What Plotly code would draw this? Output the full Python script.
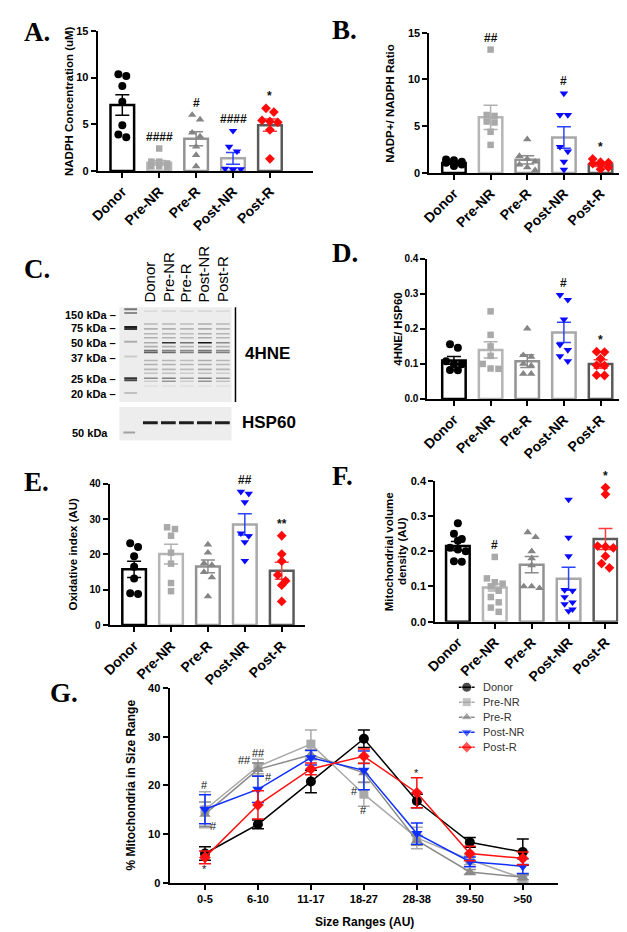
import plotly.graph_objects as go

W, H = 627, 932
FONT = "Liberation Sans, Arial, sans-serif"
SERIF = "Liberation Serif, Times New Roman, serif"

groups = ["Donor", "Pre-NR", "Pre-R", "Post-NR", "Post-R"]

# ---------------- Panel A : NADPH concentration ----------------
A_means = [7.05, 0.88, 3.45, 1.35, 4.9]
A_sem = [1.1, 0.25, 0.75, 0.62, 0.65]
A_pts = [[10.35, 10.15, 9.1, 7.4, 4.9, 3.9, 3.6],
         [2.4, 1.0, 1.0, 0.8, 0.5, 0.5, 0.4],
         [6.0, 5.5, 4.1, 3.7, 2.6, 1.7, 0.5],
         [4.3, 2.6, 2.1, 0.25, 0.2, 0.2, 0.15],
         [6.7, 6.3, 5.4, 5.3, 5.2, 4.4, 1.3]]
A_sig = ["", "####", "#", "####", "*"]

# ---------------- Panel B : NADP+/NADPH ratio ----------------
B_means = [1.05, 5.95, 1.4, 3.8, 0.9]
B_sem = [0.12, 1.3, 0.45, 1.15, 0.2]
B_pts = [[1.45, 1.35, 1.2, 1.1, 1.0, 0.9, 0.75],
         [13.2, 6.2, 6.1, 5.5, 5.4, 4.4, 3.0],
         [3.6, 1.8, 1.5, 1.2, 0.9, 0.6, 0.3],
         [8.5, 6.2, 6.2, 2.8, 2.3, 1.2, 0.35],
         [1.5, 1.15, 1.1, 1.0, 0.9, 0.6, 0.4]]
B_sig = ["", "##", "", "#", "*"]

# ---------------- Panel D : 4HNE / HSP60 ----------------
D_means = [0.11, 0.14, 0.108, 0.19, 0.10]
D_sem = [0.011, 0.023, 0.018, 0.029, 0.012]
D_pts = [[0.156, 0.146, 0.108, 0.10, 0.099, 0.083, 0.082],
         [0.25, 0.183, 0.15, 0.123, 0.10, 0.087, 0.086],
         [0.201, 0.125, 0.12, 0.10, 0.095, 0.072, 0.072],
         [0.297, 0.283, 0.227, 0.155, 0.14, 0.122, 0.108],
         [0.135, 0.134, 0.115, 0.096, 0.095, 0.068, 0.067]]
D_sig = ["", "", "", "#", "*"]

# ---------------- Panel E : Oxidative index ----------------
E_means = [15.8, 20.1, 16.6, 28.5, 15.4]
E_sem = [2.3, 2.8, 1.8, 3.0, 2.4]
E_pts = [[23.2, 22.1, 19.5, 16.5, 13.2, 9.0, 8.8],
         [27.7, 27.2, 25.3, 20.5, 17.4, 11.9, 9.6],
         [22.8, 20.5, 17.5, 17.0, 15.0, 13.5, 8.1],
         [37.8, 37.2, 34.8, 26.0, 25.2, 23.5, 18.2],
         [25.3, 20.1, 18.1, 14.2, 12.5, 11.3, 6.7]]
E_sig = ["", "", "", "##", "**"]

# ---------------- Panel F : Mitochondrial volume density ----------------
F_means = [0.215, 0.097, 0.162, 0.122, 0.235]
F_sem = [0.013, 0.010, 0.023, 0.033, 0.030]
F_pts = [[0.28, 0.25, 0.235, 0.23, 0.21, 0.205, 0.20, 0.172, 0.17],
         [0.184, 0.123, 0.112, 0.108, 0.10, 0.088, 0.07, 0.055, 0.04, 0.028],
         [0.254, 0.24, 0.20, 0.18, 0.16, 0.10, 0.10, 0.095],
         [0.347, 0.239, 0.186, 0.09, 0.088, 0.07, 0.055, 0.05, 0.035, 0.03],
         [0.381, 0.362, 0.215, 0.213, 0.21, 0.186, 0.165, 0.153]]
F_sig = ["", "#", "", "", "*"]

# ---------------- Panel G : size distribution ----------------
size_ranges = ["0-5", "6-10", "11-17", "18-27", "28-38", "39-50", ">50"]
G_mean = {
    "Donor":   [6.0, 12.0, 20.8, 29.6, 16.8, 8.3, 6.3],
    "Pre-NR":  [15.0, 23.9, 28.5, 18.2, 9.2, 4.7, 0.9],
    "Pre-R":   [14.1, 23.3, 26.3, 22.6, 8.7, 2.2, 1.1],
    "Post-NR": [15.1, 19.2, 25.7, 23.1, 10.1, 4.3, 3.4],
    "Post-R":  [5.2, 16.0, 23.4, 26.0, 18.5, 6.0, 5.0],
}
G_sem = {
    "Donor":   [1.4, 0.9, 2.3, 1.8, 1.4, 1.0, 2.7],
    "Pre-NR":  [3.7, 1.5, 2.9, 2.5, 2.2, 1.0, 0.8],
    "Pre-R":   [2.5, 1.3, 1.0, 2.0, 1.0, 0.5, 0.5],
    "Post-NR": [3.0, 2.7, 1.5, 4.0, 2.2, 1.0, 1.5],
    "Post-R":  [1.3, 2.9, 1.2, 1.5, 3.1, 1.5, 1.3],
}
# significance marks: (size range index, value, text, horizontal nudge px)
G_sig_idx = [0, 0, 0, 1, 1, 1, 3, 3, 4]
G_sig_val = [20.0, 11.6, 2.9, 25.2, 26.6, 21.8, 18.8, 14.9, 22.5]
G_sig_txt = ["#", "#", "*", "##", "##", "#", "#", "#", "*"]
G_sig_dx = [0, 9, 0, -13, 1, 11, -9, 0, 0]

# ---------------- Panel C : western blot (band intensities) ----------------
kda_labels = ["150 kDa –", "75 kDa –", "50 kDa –", "37 kDa –", "25 kDa –", "20 kDa –"]
kda_migration = [9, 22, 37, 52, 74, 89]
ladder_rows = [3, 7, 21, 23, 36, 51, 73, 75, 88]
ladder_int = [0.55, 0.45, 0.95, 0.85, 0.3, 0.15, 0.85, 0.75, 0.2]
band_rows = [5, 18, 23, 28, 32, 37, 41, 45, 47, 55, 59, 64, 68, 73, 76, 81]
band_int = {
    "Donor":   [0.08, 0.25, 0.28, 0.25, 0.28, 0.30, 0.28, 0.60, 0.65, 0.25, 0.28, 0.25, 0.20, 0.45, 0.15, 0.06],
    "Pre-NR":  [0.10, 0.25, 0.28, 0.25, 0.28, 0.85, 0.28, 0.50, 0.60, 0.25, 0.28, 0.25, 0.20, 0.50, 0.40, 0.06],
    "Pre-R":   [0.08, 0.22, 0.25, 0.22, 0.25, 0.55, 0.25, 0.45, 0.50, 0.22, 0.25, 0.22, 0.15, 0.35, 0.15, 0.05],
    "Post-NR": [0.10, 0.30, 0.30, 0.30, 0.32, 1.00, 0.32, 0.55, 0.60, 0.30, 0.30, 0.30, 0.20, 0.50, 0.40, 0.06],
    "Post-R":  [0.08, 0.25, 0.25, 0.25, 0.25, 0.45, 0.25, 0.45, 0.50, 0.25, 0.25, 0.25, 0.15, 0.40, 0.20, 0.05],
}
hsp60_int = [0.95, 0.95, 0.95, 0.95, 0.95]

# ---------------- styles ----------------
pt_color = ["#000000", "#a9a9a9", "#858585", "#0a0aff", "#ff0a0a"]
bar_line = ["#000000", "#b5b5b5", "#929292", "#a8a8a8", "#5a5a5a"]
err_color = ["#000000", "#b0b0b0", "#8a8a8a", "#2a44ff", "#ff3b3b"]
symbols = ["circle", "square", "triangle-up", "triangle-down", "diamond"]
pt_size = [8, 6.5, 7.5, 7.5, 7.5]
G_color = ["#000000", "#a9a9a9", "#8a8a8a", "#1030ff", "#ff1010"]
G_size = [10, 9, 10, 10, 9]

fig = go.Figure()
layout = dict(
    width=W, height=H, margin=dict(l=0, r=0, t=0, b=0),
    paper_bgcolor="white", plot_bgcolor="rgba(0,0,0,0)",
    barmode="overlay", showlegend=False,
    font=dict(family=FONT, color="black"),
)
annotations = []
shapes = []


def fx(p):
    return p / W


def fy(p):
    return 1 - p / H


def swarm(vals, ypx_per_unit, xpx_per_unit, center, step=8.0, thr=6.5):
    order = sorted(range(len(vals)), key=lambda k: -vals[k])
    rows = []
    for k in order:
        if rows and abs(vals[rows[-1][0]] - vals[k]) * ypx_per_unit < thr and len(rows[-1]) < 3:
            rows[-1].append(k)
        else:
            rows.append([k])
    xs = [center] * len(vals)
    for r in rows:
        n = len(r)
        for j, k in enumerate(r):
            xs[k] = center + (j - (n - 1) / 2) * step / xpx_per_unit
    return xs


def bar_panel(n, px_axis_x, px_x_end, px_first, spacing, px_top, px_bot, ymax, tickvals,
              ticktext, means, sems, pts, sig, ytitle_lines, ytitle_x, tick_size=11):
    xr = [-(px_first - px_axis_x) / spacing, 4 + (px_x_end - px_first - 4 * spacing) / spacing]
    xa = "x%d" % n
    ya = "y%d" % n
    layout["xaxis%d" % n] = dict(
        domain=[fx(px_axis_x), fx(px_x_end)], range=xr, anchor=ya,
        showline=True, linecolor="black", linewidth=2, showgrid=False, zeroline=False,
        ticks="outside", ticklen=5, tickwidth=1.5, tickcolor="black",
        tickvals=list(range(5)), ticktext=groups, tickangle=-45,
        tickfont=dict(family=FONT, size=14, color="black", weight="bold"),
    )
    layout["yaxis%d" % n] = dict(
        domain=[fy(px_bot), fy(px_top)], range=[0, ymax], anchor=xa,
        showline=True, linecolor="black", linewidth=2, showgrid=False, zeroline=False,
        ticks="outside", ticklen=5, tickwidth=1.5, tickcolor="black",
        tickvals=tickvals, ticktext=ticktext,
        tickfont=dict(family=FONT, size=tick_size, color="black", weight="bold"),
    )
    ypx = (px_bot - px_top) / ymax
    for i in range(5):
        fig.add_trace(go.Bar(
            x=[i], y=[means[i]], width=0.64, xaxis=xa, yaxis=ya, showlegend=False,
            marker=dict(color="white", line=dict(color=bar_line[i], width=2.5)),
            error_y=dict(type="data", array=[sems[i]], color=err_color[i], thickness=1.5, width=7),
            hoverinfo="skip",
        ))
    for i in range(5):
        xs = swarm(pts[i], ypx, spacing, i)
        fig.add_trace(go.Scatter(
            x=xs, y=pts[i], mode="markers", xaxis=xa, yaxis=ya, showlegend=False,
            cliponaxis=False,
            marker=dict(symbol=symbols[i], size=pt_size[i], color=pt_color[i], line=dict(width=0)),
        ))
        if sig[i]:
            top = max(max(pts[i]), means[i] + sems[i])
            annotations.append(dict(
                x=i, y=top, xref=xa, yref=ya, text=sig[i], showarrow=False,
                yanchor="bottom", yshift=3,
                font=dict(family=FONT, size=12, color="#111", weight="bold"),
            ))
    ymid = (px_top + px_bot) / 2
    nl = len(ytitle_lines)
    for j, line in enumerate(ytitle_lines):
        annotations.append(dict(
            x=fx(ytitle_x + (j - (nl - 1) / 2) * 14), y=fy(ymid), xref="paper", yref="paper",
            text=line, showarrow=False, textangle=-90, xanchor="center", yanchor="middle",
            font=dict(family=FONT, size=11.5, color="black", weight="bold"),
        ))


bar_panel(1, 81, 300, 106, 37.5, 17, 159, 15, [0, 5, 10, 15], ["0", "5", "10", "15"],
          A_means, A_sem, A_pts, A_sig, ["NADPH Concentration (uM)"], 52)
bar_panel(2, 418, 615, 443, 37.25, 19, 161, 15, [0, 5, 10, 15], ["0", "5", "10", "15"],
          B_means, B_sem, B_pts, B_sig, ["NADP+/ NADPH Ratio"], 378)
bar_panel(3, 416, 615, 443, 37.25, 248, 390, 0.4, [0, 0.1, 0.2, 0.3, 0.4],
          ["0.0", "0.1", "0.2", "0.3", "0.4"],
          D_means, D_sem, D_pts, D_sig, ["4HNE/ HSP60"], 386, tick_size=10)
bar_panel(4, 93, 292, 118, 37.5, 476, 619, 40, [0, 10, 20, 30, 40],
          ["0", "10", "20", "30", "40"],
          E_means, E_sem, E_pts, E_sig, ["Oxidative index (AU)"], 56, tick_size=10)
bar_panel(5, 424, 610, 447, 37.5, 473, 615.6, 0.4, [0, 0.1, 0.2, 0.3, 0.4],
          ["0.0", "0.1", "0.2", "0.3", "0.4"],
          F_means, F_sem, F_pts, F_sig, ["Mitochondrial volume", "density (AU)"], 384)

# ---------------- Panel G ----------------
gx0, gx1, gfirst, gsp, gtop, gbot = 154, 549, 190, 53.83, 683, 880
layout["xaxis6"] = dict(
    domain=[fx(gx0), fx(gx1)], range=[-(gfirst - gx0) / gsp, 6 + (gx1 - gfirst - 6 * gsp) / gsp],
    anchor="y6", showline=True, linecolor="black", linewidth=2, showgrid=False, zeroline=False,
    ticks="outside", ticklen=5, tickwidth=1.5, tickcolor="black",
    tickvals=list(range(7)), ticktext=size_ranges, tickangle=0,
    tickfont=dict(family=FONT, size=11, color="black", weight="bold"),
)
layout["yaxis6"] = dict(
    domain=[fy(gbot), fy(gtop)], range=[0, 40], anchor="x6",
    showline=True, linecolor="black", linewidth=2, showgrid=False, zeroline=False,
    ticks="outside", ticklen=5, tickwidth=1.5, tickcolor="black",
    tickvals=[0, 10, 20, 30, 40], ticktext=["0", "10", "20", "30", "40"],
    tickfont=dict(family=FONT, size=11, color="black", weight="bold"),
)
for i, g in enumerate(groups):
    fig.add_trace(go.Scatter(
        x=list(range(7)), y=G_mean[g], name=g, mode="lines+markers",
        xaxis="x6", yaxis="y6", cliponaxis=False, showlegend=False,
        line=dict(color=G_color[i], width=1.5),
        marker=dict(symbol=symbols[i], size=G_size[i], color=G_color[i]),
        error_y=dict(type="data", array=G_sem[g], color=G_color[i], thickness=1.5, width=6),
    ))
for k in range(len(G_sig_idx)):
    annotations.append(dict(
        x=G_sig_idx[k], y=G_sig_val[k], xref="x6", yref="y6", text=G_sig_txt[k],
        showarrow=False, xshift=G_sig_dx[k], yanchor="middle",
        font=dict(family=FONT, size=11, color="#111"),
    ))
annotations.append(dict(x=fx(115), y=fy((gtop + gbot) / 2), xref="paper", yref="paper",
                        text="% Mitochondria in Size Range", showarrow=False, textangle=-90,
                        xanchor="center", yanchor="middle",
                        font=dict(family=FONT, size=12, color="black", weight="bold")))
annotations.append(dict(x=fx(352), y=fy(920), xref="paper", yref="paper",
                        text="Size Ranges (AU)", showarrow=False, yanchor="middle",
                        font=dict(family=FONT, size=12, color="black", weight="bold")))

# compact legend for panel G, drawn on a pixel-scaled helper axis
lx0, lx1, ly0, ly1 = 440, 540, 673, 753
layout["xaxis8"] = dict(domain=[fx(lx0), fx(lx1)], range=[lx0, lx1], anchor="y8",
                        visible=False, fixedrange=True)
layout["yaxis8"] = dict(domain=[fy(ly1), fy(ly0)], range=[ly1, ly0], anchor="x8",
                        visible=False, fixedrange=True)
leg_row0, leg_gap, leg_mx = 682, 15.2, 456
for i, g in enumerate(groups):
    ry = leg_row0 + i * leg_gap
    fig.add_trace(go.Scatter(
        x=[leg_mx - 8, leg_mx, leg_mx + 8], y=[ry, ry, ry], mode="lines+markers",
        xaxis="x8", yaxis="y8", showlegend=False, hoverinfo="skip", cliponaxis=False,
        line=dict(color=G_color[i], width=1.5),
        marker=dict(symbol=symbols[i], size=[0, G_size[i], 0], color=G_color[i]),
    ))
    annotations.append(dict(x=leg_mx + 14, y=ry, xref="x8", yref="y8", text=g, showarrow=False,
                            xanchor="left", yanchor="middle",
                            font=dict(family=FONT, size=11, color="#333")))

# ---------------- Panel C : blot drawn on its own pixel-scaled axis ----------------
bx0, bx1, by0, by1 = 100, 225, 296, 436
layout["xaxis7"] = dict(domain=[fx(bx0), fx(bx1)], range=[bx0 - 103, bx1 - 103], anchor="y7",
                        visible=False, fixedrange=True)
layout["yaxis7"] = dict(domain=[fy(by1), fy(by0)], range=[by1 - 296, 0], anchor="x7",
                        visible=False, fixedrange=True)
fig.add_trace(go.Scatter(x=[0], y=[0], xaxis="x7", yaxis="y7", mode="markers",
                         marker=dict(opacity=0), showlegend=False, hoverinfo="skip"))
ladder_x = 12
lane_x = [32 + 18.3 * j for j in range(5)]
gel_bg = "#ededed"
shapes.append(dict(type="rect", xref="x7", yref="y7", x0=0, x1=114, y0=1, y1=97,
                   fillcolor=gel_bg, line=dict(width=0), layer="below"))
shapes.append(dict(type="rect", xref="x7", yref="y7", x0=0, x1=114, y0=102, y1=136,
                   fillcolor=gel_bg, line=dict(width=0), layer="below"))
shapes.append(dict(type="line", xref="x7", yref="y7", x0=118, x1=118, y0=1, y1=97,
                   line=dict(color="black", width=1.5)))


def gray(v):
    c = int(round(237 * (1 - 0.92 * v)))
    return "rgb(%d,%d,%d)" % (c, c, c)


for r, v in zip(ladder_rows, ladder_int):
    shapes.append(dict(type="rect", xref="x7", yref="y7", x0=ladder_x - 7, x1=ladder_x + 6,
                       y0=r - 1.0, y1=r + 1.0, fillcolor=gray(v), line=dict(width=0)))
for j, g in enumerate(groups):
    for r, v in zip(band_rows, band_int[g]):
        shapes.append(dict(type="rect", xref="x7", yref="y7", x0=lane_x[j] - 7, x1=lane_x[j] + 7,
                           y0=r - 0.8, y1=r + 0.8, fillcolor=gray(v), line=dict(width=0)))
    shapes.append(dict(type="rect", xref="x7", yref="y7", x0=lane_x[j] - 8, x1=lane_x[j] + 7,
                       y0=116.5, y1=119.5, fillcolor=gray(hsp60_int[j]), line=dict(width=0)))
shapes.append(dict(type="rect", xref="x7", yref="y7", x0=ladder_x - 8, x1=ladder_x + 4,
                   y0=127, y1=129, fillcolor=gray(0.35), line=dict(width=0)))

for j, g in enumerate(groups):
    annotations.append(dict(x=lane_x[j] - 1, y=fy(294), xref="x7", yref="paper", text=g,
                            showarrow=False, textangle=-90, xanchor="center", yanchor="bottom",
                            font=dict(family=FONT, size=15, color="black")))
for lab, m in zip(kda_labels, kda_migration):
    annotations.append(dict(x=fx(102), y=m, xref="paper", yref="y7", text=lab, showarrow=False,
                            xanchor="right", yanchor="middle",
                            font=dict(family=FONT, size=11, color="black", weight="bold")))
annotations.append(dict(x=fx(93), y=128, xref="paper", yref="y7", text="50 kDa", showarrow=False,
                        xanchor="right", yanchor="middle",
                        font=dict(family=FONT, size=11, color="black", weight="bold")))
annotations.append(dict(x=fx(229), y=fy(344), xref="paper", yref="paper", text="4HNE",
                        showarrow=False, xanchor="left", yanchor="middle",
                        font=dict(family=FONT, size=17, color="black", weight="bold")))
annotations.append(dict(x=fx(226), y=fy(414), xref="paper", yref="paper", text="HSP60",
                        showarrow=False, xanchor="left", yanchor="middle",
                        font=dict(family=FONT, size=17, color="black", weight="bold")))

# ---------------- Panel letters ----------------
letters = ["A.", "B.", "C.", "D.", "E.", "F.", "G."]
letter_px = [(4, 18), (317, 16), (4, 258), (317, 242), (4, 474), (317, 468), (30, 688)]
for t, (lx, ly) in zip(letters, letter_px):
    annotations.append(dict(x=fx(lx), y=fy(ly), xref="paper", yref="paper", text=t,
                            showarrow=False, xanchor="left", yanchor="middle",
                            font=dict(family=SERIF, size=27, color="black", weight="bold")))

layout["annotations"] = annotations
layout["shapes"] = shapes
fig.update_layout(**layout)
fig.write_html("out.html")
